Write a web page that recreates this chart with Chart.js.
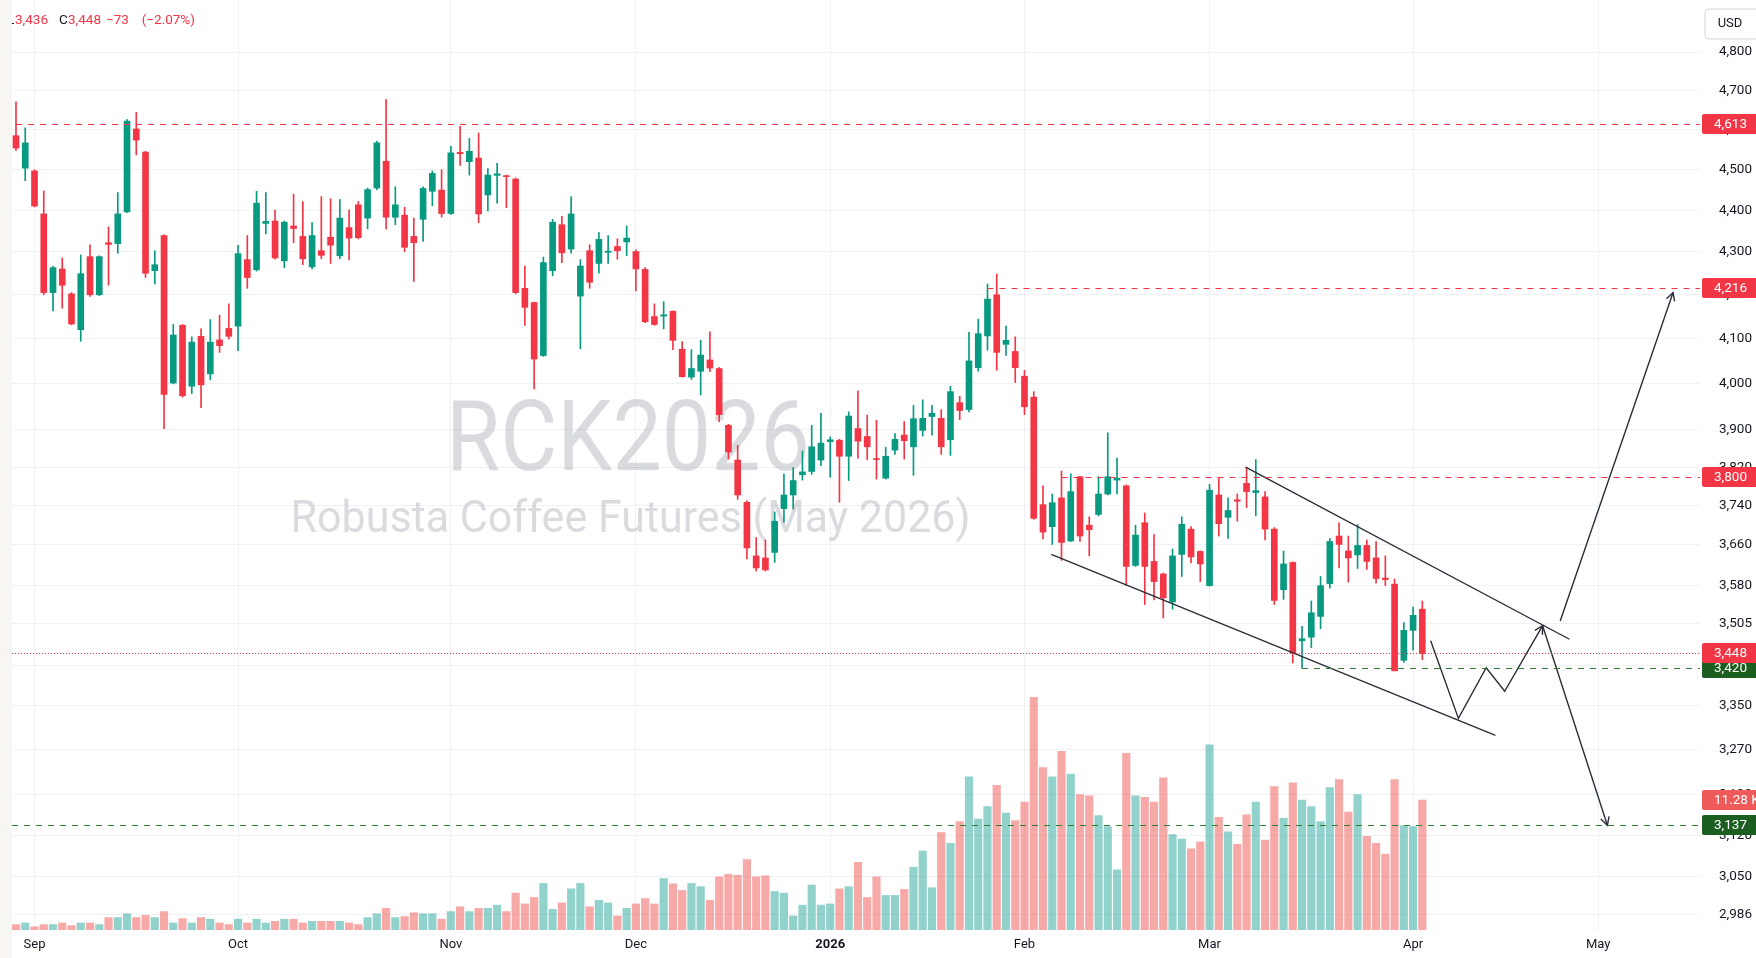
<!DOCTYPE html>
<html>
<head>
<meta charset="utf-8">
<title>RCK2026 - Robusta Coffee Futures (May 2026)</title>
<script src="https://cdn.jsdelivr.net/npm/chart.js@4.4.0/dist/chart.umd.min.js"></script>
<style>
  html, body { margin: 0; padding: 0; background: #fff; overflow: hidden; }
  #strip { position: absolute; left: 0; top: 0; width: 12px; height: 958px; background: #f7f6f3; }
  #wrap { position: absolute; left: 12px; top: 0; width: 1744px; height: 958px; }
</style>
</head>
<body>
<div id="strip"></div>
<div id="wrap"><canvas id="chart" width="1744" height="958"></canvas></div>
<script>
// daily candles, 1 Sep 2025 -> 2 Apr 2026 (index = trading day)
const opens = [
  4584, 4503, 4496, 4391, 4205, 4260, 4202, 4120, 4289, 4200,
  4322, 4320, 4396, 4601, 4543, 4256, 4339, 4001, 4130, 3994,
  4105, 4021, 4097, 4123, 4128, 4282, 4258, 4368, 4374, 4279,
  4362, 4337, 4265, 4303, 4335, 4291, 4358, 4413, 4381, 4454,
  4520, 4383, 4388, 4337, 4378, 4446, 4449, 4392, 4542, 4519,
  4528, 4437, 4485, 4484, 4476, 4215, 4182, 4062, 4256, 4365,
  4307, 4197, 4303, 4273, 4299, 4313, 4324, 4301, 4259, 4150,
  4151, 4162, 4076, 4014, 4027, 4052, 4033, 3909, 3835, 3747,
  3638, 3634, 3645, 3734, 3762, 3804, 3811, 3835, 3874, 3877,
  3843, 3902, 3885, 3838, 3797, 3856, 3888, 3863, 3898, 3928,
  3924, 3878, 3958, 3943, 4035, 4106, 4200, 4087, 4071, 4016,
  3970, 3742, 3697, 3756, 3668, 3800, 3700, 3722, 3764, 3793,
  3781, 3619, 3705, 3627, 3602, 3547, 3641, 3692, 3647, 3579,
  3762, 3716, 3752, 3786, 3767, 3758, 3692, 3571, 3625, 3472,
  3479, 3519, 3583, 3678, 3648, 3640, 3659, 3634, 3594, 3582,
  3435, 3492, 3533
];
const highs = [
  4670, 4604, 4499, 4447, 4266, 4286, 4205, 4293, 4317, 4291,
  4360, 4443, 4625, 4643, 4545, 4303, 4341, 4132, 4132, 4104,
  4122, 4143, 4153, 4179, 4316, 4339, 4446, 4443, 4400, 4374,
  4439, 4421, 4370, 4433, 4428, 4426, 4401, 4421, 4454, 4570,
  4676, 4457, 4407, 4381, 4457, 4496, 4499, 4557, 4608, 4577,
  4591, 4502, 4515, 4486, 4479, 4267, 4183, 4288, 4378, 4385,
  4433, 4282, 4317, 4346, 4339, 4331, 4362, 4305, 4263, 4179,
  4184, 4163, 4093, 4075, 4096, 4115, 4035, 3911, 3866, 3750,
  3675, 3670, 3727, 3806, 3819, 3854, 3909, 3935, 3884, 3879,
  3938, 3984, 3931, 3920, 3862, 3891, 3917, 3952, 3964, 3952,
  3943, 3994, 3972, 4114, 4144, 4225, 4248, 4128, 4104, 4029,
  3982, 3781, 3764, 3812, 3806, 3801, 3717, 3800, 3893, 3839,
  3783, 3700, 3725, 3681, 3604, 3652, 3717, 3697, 3648, 3784,
  3797, 3756, 3764, 3820, 3836, 3769, 3695, 3648, 3626, 3500,
  3549, 3597, 3673, 3705, 3678, 3701, 3670, 3667, 3638, 3592,
  3507, 3537, 3549
];
const lows = [
  4547, 4472, 4408, 4200, 4163, 4169, 4131, 4094, 4196, 4198,
  4222, 4297, 4394, 4536, 4240, 4225, 3902, 3999, 3970, 3978,
  3947, 4008, 4069, 4099, 4073, 4215, 4255, 4343, 4283, 4263,
  4322, 4270, 4260, 4284, 4273, 4284, 4281, 4331, 4355, 4450,
  4355, 4365, 4301, 4231, 4325, 4411, 4383, 4390, 4510, 4486,
  4370, 4398, 4417, 4406, 4202, 4130, 3988, 4060, 4244, 4275,
  4297, 4077, 4215, 4250, 4273, 4283, 4291, 4209, 4136, 4130,
  4122, 4075, 4014, 4009, 3975, 4026, 3917, 3837, 3753, 3632,
  3608, 3608, 3625, 3706, 3733, 3793, 3805, 3823, 3799, 3747,
  3792, 3839, 3836, 3795, 3795, 3847, 3837, 3803, 3886, 3888,
  3847, 3845, 3921, 3938, 4027, 4074, 4029, 4062, 4002, 3932,
  3712, 3672, 3661, 3629, 3667, 3667, 3638, 3719, 3762, 3764,
  3579, 3617, 3542, 3551, 3516, 3533, 3597, 3624, 3587, 3578,
  3678, 3673, 3708, 3736, 3719, 3670, 3542, 3552, 3430, 3420,
  3459, 3495, 3574, 3614, 3586, 3613, 3611, 3584, 3579, 3416,
  3431, 3454, 3436
];
const closes = [
  4553, 4566, 4410, 4205, 4263, 4222, 4133, 4249, 4200, 4289,
  4318, 4391, 4621, 4573, 4250, 4270, 3976, 4108, 3973, 4092,
  3997, 4092, 4084, 4105, 4296, 4240, 4417, 4373, 4286, 4371,
  4356, 4284, 4339, 4292, 4316, 4381, 4333, 4334, 4450, 4566,
  4383, 4413, 4311, 4322, 4453, 4490, 4392, 4541, 4539, 4545,
  4391, 4486, 4489, 4482, 4205, 4171, 4054, 4275, 4371, 4298,
  4391, 4267, 4229, 4330, 4302, 4303, 4333, 4260, 4138, 4132,
  4154, 4096, 4015, 4033, 4063, 4034, 3932, 3852, 3762, 3654,
  3614, 3610, 3708, 3762, 3792, 3810, 3863, 3871, 3878, 3843,
  3929, 3875, 3863, 3836, 3843, 3879, 3876, 3923, 3924, 3935,
  3863, 3982, 3941, 4050, 4111, 4190, 4069, 4096, 4035, 3949,
  3714, 3686, 3746, 3665, 3769, 3678, 3691, 3764, 3800, 3797,
  3617, 3680, 3617, 3587, 3555, 3638, 3702, 3636, 3622, 3772,
  3703, 3730, 3749, 3769, 3771, 3692, 3550, 3622, 3449, 3476,
  3526, 3579, 3667, 3661, 3634, 3659, 3627, 3593, 3591, 3415,
  3492, 3521, 3448
];
// volume in thousands of lots
const volumes = [
  0.47, 0.61, 0.28, 0.47, 0.47, 0.61, 0.38, 0.61, 0.61, 0.47,
  1.08, 1.08, 1.41, 1.08, 1.27, 1.08, 1.6, 0.61, 0.99, 0.61,
  1.08, 0.94, 0.61, 0.47, 0.94, 0.61, 0.94, 0.61, 0.75, 0.94,
  0.94, 0.61, 0.75, 0.75, 0.75, 0.75, 0.61, 0.47, 1.08, 1.41,
  1.88, 1.08, 1.17, 1.5, 1.41, 1.41, 0.94, 1.6, 2.02, 1.6,
  1.88, 1.88, 2.16, 1.6, 3.2, 2.26, 2.82, 4.04, 1.79, 2.35,
  3.57, 4.04, 2.02, 2.58, 2.35, 1.22, 1.88, 2.26, 2.73, 2.26,
  4.47, 4.0, 3.43, 4.04, 3.76, 2.58, 4.61, 4.84, 4.75, 6.11,
  4.61, 4.7, 3.34, 3.2, 1.22, 2.16, 3.9, 2.16, 2.26, 3.57,
  3.76, 5.87, 2.82, 4.61, 3.0, 3.0, 3.52, 5.45, 6.86, 3.67,
  8.46, 7.52, 9.4, 13.3, 9.63, 10.7, 12.55, 10.15, 9.49, 11.09,
  20.2, 14.1, 13.3, 15.5, 13.53, 11.75, 11.65, 9.92, 8.98, 5.22,
  15.32, 11.65, 11.51, 11.09, 13.2, 8.27, 7.89, 7.05, 7.66, 16.07,
  9.77, 8.51, 7.43, 10.0, 11.09, 7.8, 12.45, 9.68, 12.78, 11.28,
  10.71, 9.4, 12.36, 13.06, 10.24, 11.75, 8.13, 7.52, 6.58, 13.06,
  9.07, 8.98, 11.28
];

// axis ticks
const priceTicks = [4800, 4700, 4600, 4500, 4400, 4300, 4200, 4100, 4000, 3900, 3820, 3740,
  3660, 3580, 3505, 3425, 3350, 3270, 3190, 3120, 3050, 2986];
const monthTickIdx = [2, 24, 47, 67, 88, 109, 129, 151, 171];
const monthTickLabels = ['Sep', 'Oct', 'Nov', 'Dec', '2026', 'Feb', 'Mar', 'Apr', 'May'];

// horizontal levels and the drawing on top of the chart
const levelPrices = [4613, 4216, 3800, 3420, 3137];
const levelStartIdx = [0, 105, 113, 139, -1];
const lastPrice = 3448;
const lastVolume = 11.28;
const channelUpper = [[132.9, 3820], [167.9, 3475]];
const channelLower = [[111.9, 3641], [159.9, 3296]];
const zigzagPath = [[152.9, 3472], [155.9, 3327], [158.9, 3421], [160.9, 3377], [165.0, 3501]];
const downArrow = [[165.0, 3501], [172.0, 3137]];
const upArrow = [[166.9, 3510], [179.1, 4205]];

const headerParts = ['L', '3,436', 'C', '3,448', '\u221273', '(\u22122.07%)'];
const watermarkTitle = 'RCK2026';
const watermarkSub = 'Robusta Coffee Futures (May 2026)';

const UP = '#089981', DOWN = '#f23645';
const GRID = '#eff1f5', TEXT = '#131722';
const isUp = (i) => closes[i] >= opens[i];

const toXY = (pts) => pts.map(([x, y]) => ({ x, y }));
const lineDs = (pts) => ({
  type: 'line', data: toXY(pts), xAxisID: 'x', yAxisID: 'y',
  borderColor: '#2a2e39', borderWidth: 1.4, pointRadius: 0, tension: 0, fill: false, order: 1
});

function drawFitted(ctx, text, size, cx, by, w) {
  ctx.font = size + 'px Roboto';
  const m = ctx.measureText(text).width;
  ctx.save();
  ctx.translate(cx, by);
  ctx.scale(w / m, 1);
  ctx.fillText(text, 0, 0);
  ctx.restore();
}

function roundRect(ctx, x, y, w, h, r) {
  ctx.beginPath();
  ctx.moveTo(x + r, y);
  ctx.lineTo(x + w - r, y);
  ctx.quadraticCurveTo(x + w, y, x + w, y + r);
  ctx.lineTo(x + w, y + h - r);
  ctx.quadraticCurveTo(x + w, y + h, x + w - r, y + h);
  ctx.lineTo(x + r, y + h);
  ctx.quadraticCurveTo(x, y + h, x, y + h - r);
  ctx.lineTo(x, y + r);
  ctx.quadraticCurveTo(x, y, x + r, y);
  ctx.closePath();
}

function arrowHead(ctx, sx, sy, from, to) {
  const x1 = sx.getPixelForValue(from[0]), y1 = sy.getPixelForValue(from[1]);
  const x2 = sx.getPixelForValue(to[0]), y2 = sy.getPixelForValue(to[1]);
  const a = Math.atan2(y2 - y1, x2 - x1);
  const len = 9, spread = 0.5;
  ctx.beginPath();
  ctx.moveTo(x2 - len * Math.cos(a - spread), y2 - len * Math.sin(a - spread));
  ctx.lineTo(x2, y2);
  ctx.lineTo(x2 - len * Math.cos(a + spread), y2 - len * Math.sin(a + spread));
  ctx.stroke();
}

const overlay = {
  id: 'overlay',
  beforeDatasetsDraw(chart) {
    const { ctx } = chart;
    ctx.save();
    ctx.fillStyle = 'rgba(150,154,164,0.36)';
    ctx.textAlign = 'center';
    ctx.textBaseline = 'alphabetic';
    drawFitted(ctx, watermarkTitle, 98, 616, 470, 364);
    drawFitted(ctx, watermarkSub, 45, 618.5, 532, 680);
    ctx.restore();
  },
  afterDatasetsDraw(chart) {
    const { ctx, chartArea: a, scales } = chart;
    const sx = scales.x, sy = scales.y;
    ctx.save();
    ctx.lineWidth = 1;
    // horizontal levels
    levelPrices.forEach((p, k) => {
      const y = Math.round(sy.getPixelForValue(p)) + 0.5;
      const x0 = levelStartIdx[k] < 0 ? a.left : sx.getPixelForValue(levelStartIdx[k]);
      ctx.strokeStyle = p > lastPrice ? '#f23645' : '#2e7d32';
      ctx.setLineDash([6, 6]);
      ctx.beginPath();
      ctx.moveTo(x0, y);
      ctx.lineTo(a.right, y);
      ctx.stroke();
    });
    // last price line
    const yl = Math.round(sy.getPixelForValue(lastPrice)) + 0.5;
    ctx.strokeStyle = '#f23645';
    ctx.setLineDash([1, 2]);
    ctx.beginPath();
    ctx.moveTo(a.left, yl);
    ctx.lineTo(a.right, yl);
    ctx.stroke();
    // arrow heads
    ctx.setLineDash([]);
    ctx.strokeStyle = '#2a2e39';
    ctx.lineWidth = 1.4;
    const zl = zigzagPath.length;
    arrowHead(ctx, sx, sy, zigzagPath[zl - 2], zigzagPath[zl - 1]);
    arrowHead(ctx, sx, sy, downArrow[0], downArrow[1]);
    arrowHead(ctx, sx, sy, upArrow[0], upArrow[1]);
    ctx.restore();
  },
  afterDraw(chart) {
    const { ctx, chartArea: a, scales } = chart;
    const sy = scales.y, sv = scales.vol;
    ctx.save();
    // price scale tags
    const tag = (y, text, bg) => {
      ctx.fillStyle = bg;
      roundRect(ctx, a.right + 2, Math.round(y) - 10, 62, 20, 2);
      ctx.fill();
      ctx.fillStyle = '#ffffff';
      ctx.font = '13.5px Roboto';
      ctx.textAlign = 'left';
      ctx.textBaseline = 'middle';
      ctx.fillText(text, a.right + 14, Math.round(y) + 0.5);
    };
    levelPrices.forEach((p) => {
      tag(sy.getPixelForValue(p), p.toLocaleString('en-US'), p > lastPrice ? '#f23645' : '#1b5e20');
    });
    tag(sy.getPixelForValue(lastPrice), lastPrice.toLocaleString('en-US'), '#f23645');
    tag(sv.getPixelForValue(lastVolume), lastVolume.toFixed(2) + ' K', '#ef5a5a');
    // currency box
    ctx.strokeStyle = '#d1d4dc';
    ctx.fillStyle = '#ffffff';
    roundRect(ctx, a.right + 5, 9, 60, 30, 4);
    ctx.fill();
    ctx.stroke();
    ctx.fillStyle = TEXT;
    ctx.font = '13px Roboto';
    ctx.textAlign = 'center';
    ctx.textBaseline = 'middle';
    ctx.fillText('USD', a.right + 30, 24);
    // OHLC header (left part is cut by the pane edge)
    const hx = [-5, 3, 47, 56, 94, 129.7];
    ctx.font = '13.5px Roboto';
    ctx.textAlign = 'left';
    headerParts.forEach((t, k) => {
      ctx.fillStyle = (k === 0 || k === 2) ? TEXT : '#f23645';
      ctx.fillText(t, hx[k], 20.5);
    });
    ctx.restore();
  }
};

new Chart(document.getElementById('chart'), {
  type: 'bar',
  data: {
    datasets: [
      {
        label: 'Volume', data: volumes.map((v, i) => ({ x: i, y: v })),
        xAxisID: 'x', yAxisID: 'vol', grouped: false, barThickness: 7.5, order: 5,
        backgroundColor: (c) => isUp(c.dataIndex) ? 'rgba(38,166,154,0.5)' : 'rgba(239,83,80,0.5)'
      },
      {
        label: 'Wick', data: lows.map((l, i) => ({ x: i, y: [l, highs[i]] })),
        xAxisID: 'x', yAxisID: 'y', grouped: false, barThickness: 1, order: 3,
        backgroundColor: (c) => isUp(c.dataIndex) ? UP : DOWN
      },
      {
        label: 'Body', data: opens.map((o, i) => ({ x: i, y: [o, closes[i]] })),
        xAxisID: 'x', yAxisID: 'y', grouped: false, barThickness: 6, minBarLength: 1, order: 2,
        backgroundColor: (c) => isUp(c.dataIndex) ? UP : DOWN
      },
      lineDs(channelUpper),
      lineDs(channelLower),
      lineDs(zigzagPath),
      lineDs(downArrow),
      lineDs(upArrow)
    ]
  },
  options: {
    responsive: false,
    animation: false,
    devicePixelRatio: 1,
    layout: { padding: 0, autoPadding: false },
    plugins: { legend: { display: false }, tooltip: { enabled: false } },
    scales: {
      x: {
        type: 'linear', min: -0.432, max: 182.01, bounds: 'data', offset: false,
        grid: { color: GRID, offset: false, drawTicks: false },
        border: { display: false },
        ticks: {
          padding: 7, color: TEXT, autoSkip: false, maxRotation: 0,
          font: (c) => ({ family: 'Roboto', size: 13, weight: monthTickLabels[c.index] === '2026' ? 'bold' : 'normal' }),
          callback: (v) => {
            const k = monthTickIdx.indexOf(v);
            return k >= 0 ? monthTickLabels[k] : '';
          }
        },
        afterBuildTicks: (s) => { s.ticks = monthTickIdx.map((v) => ({ value: v })); },
        afterFit: (s) => { s.height = 28; s.paddingLeft = 0; s.paddingRight = 0; }
      },
      y: {
        type: 'logarithmic', position: 'right', min: 2961.4, max: 4939.3, bounds: 'data',
        grid: { color: GRID, drawTicks: false },
        border: { display: false },
        ticks: {
          padding: 19, color: TEXT, autoSkip: false, font: { family: 'Roboto', size: 13.5 },
          callback: (v) => Number(v).toLocaleString('en-US')
        },
        afterBuildTicks: (s) => { s.ticks = priceTicks.map((v) => ({ value: v })); },
        afterFit: (s) => { s.width = 56; s.paddingTop = 0; s.paddingBottom = 0; }
      },
      vol: {
        type: 'linear', display: false, min: 0, max: 80.7, position: 'left',
        grid: { display: false }
      }
    }
  },
  plugins: [overlay]
});
</script>
</body>
</html>
